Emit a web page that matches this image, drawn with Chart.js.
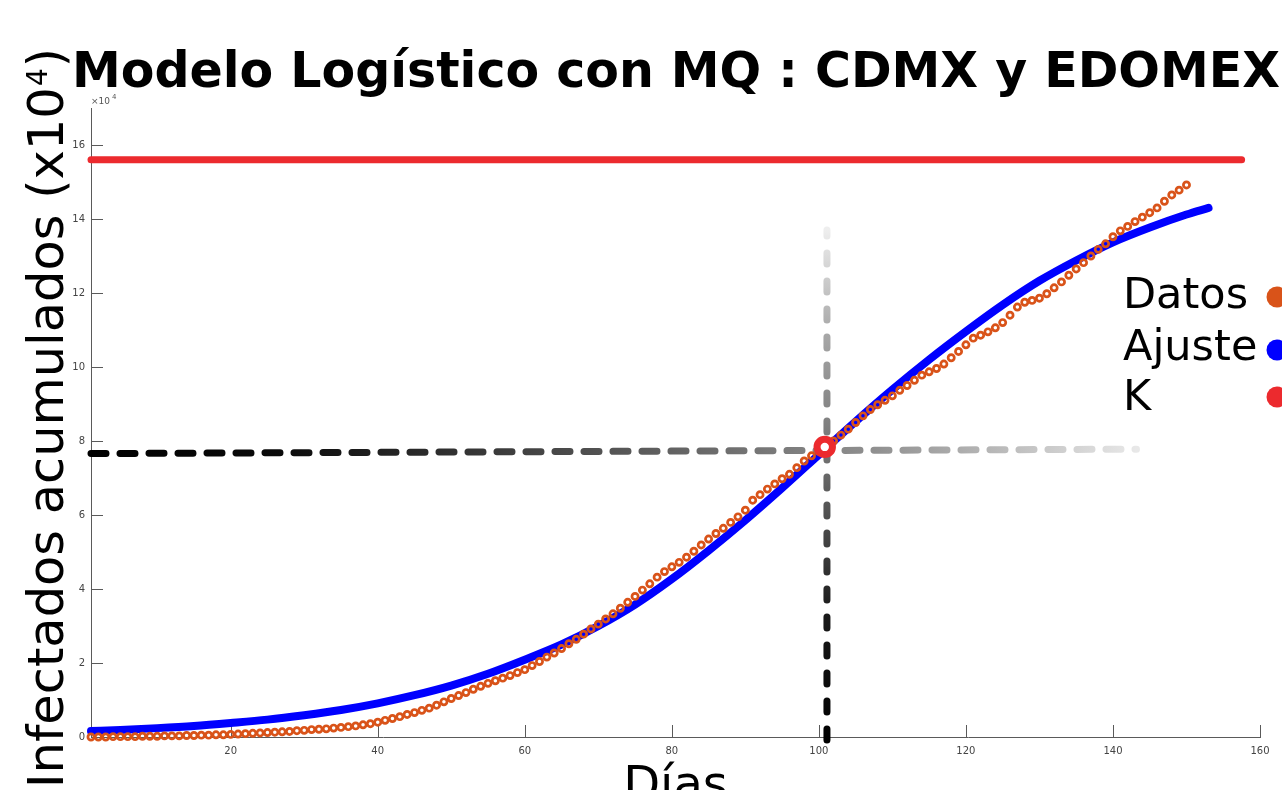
<!DOCTYPE html>
<html>
<head>
<meta charset="utf-8">
<script src="https://cdn.jsdelivr.net/npm/chart.js@4.4.1/dist/chart.umd.min.js"></script>
<style>
  html, body { margin: 0; padding: 0; background: #ffffff; }
  #wrap { width: 1282px; height: 790px; position: relative; overflow: hidden; }
</style>
</head>
<body>
<div id="wrap"><canvas id="c" width="1282" height="790"></canvas></div>
<script>
// Días 1..150 de casos acumulados (unidades de 10^4)
const dias = Array.from({ length: 150 }, (_, i) => i + 1);
const datos = [
  0.00, 0.00, 0.00, 0.01, 0.01, 0.01, 0.01, 0.02, 0.02, 0.02,
  0.03, 0.03, 0.03, 0.04, 0.04, 0.05, 0.05, 0.06, 0.06, 0.07,
  0.08, 0.09, 0.10, 0.11, 0.12, 0.13, 0.14, 0.15, 0.17, 0.18,
  0.20, 0.21, 0.22, 0.24, 0.26, 0.28, 0.30, 0.33, 0.36, 0.40,
  0.45, 0.50, 0.55, 0.61, 0.66, 0.72, 0.78, 0.86, 0.95, 1.04,
  1.12, 1.20, 1.29, 1.37, 1.45, 1.52, 1.59, 1.66, 1.74, 1.82,
  1.93, 2.04, 2.16, 2.27, 2.39, 2.52, 2.64, 2.78, 2.92, 3.05,
  3.19, 3.33, 3.48, 3.64, 3.80, 3.97, 4.14, 4.32, 4.47, 4.60,
  4.72, 4.86, 5.02, 5.19, 5.35, 5.50, 5.64, 5.80, 5.95, 6.13,
  6.40, 6.55, 6.70, 6.84, 6.98, 7.10, 7.28, 7.46, 7.60, 7.72,
  7.86, 8.00, 8.16, 8.32, 8.50, 8.68, 8.85, 8.98, 9.10, 9.22,
  9.37, 9.50, 9.64, 9.78, 9.87, 9.96, 10.08, 10.25, 10.42, 10.60,
  10.78, 10.86, 10.95, 11.06, 11.20, 11.40, 11.62, 11.75, 11.80, 11.86,
  11.98, 12.14, 12.30, 12.48, 12.65, 12.82, 13.00, 13.18, 13.33, 13.52,
  13.68, 13.80, 13.93, 14.05, 14.17, 14.30, 14.48, 14.65, 14.78, 14.92
];

// Curva logística ajustada por mínimos cuadrados
const ajusteDias = [
  1, 5, 10, 15, 20, 25, 30, 35, 40, 45, 50, 55, 60, 65, 70, 75,
  80, 85, 90, 95, 100, 105, 110, 115, 120, 125, 130, 135, 140, 145, 150, 153
];
const ajusteValores = [
  0.16, 0.19, 0.24, 0.30, 0.38, 0.47, 0.59, 0.73, 0.91, 1.13, 1.39, 1.71, 2.09, 2.50, 3.00, 3.58,
  4.27, 5.04, 5.86, 6.73, 7.63, 8.53, 9.39, 10.20, 10.96, 11.68, 12.33, 12.88, 13.37, 13.77, 14.12, 14.30
];

// Capacidad de carga K
const kValor = 15.6;
const kDias = [1, 157.5];

// Punto de inflexión y líneas de referencia
const inflexionDia = 100.8;
const inflexionValor = 7.84;
const refHDias = [1, 143.2];
const refHValores = [7.66, 7.78];
const refVDia = 101.1;
const refVValores = [-0.08, 13.7];

// Marcas de los ejes
const xTicks = [20, 40, 60, 80, 100, 120, 140, 160];
const yTicks = [0, 2, 4, 6, 8, 10, 12, 14, 16];

const titulo = 'Modelo Logístico con MQ : CDMX y EDOMEX';
const etiquetaY = 'Infectados acumulados (x10';
const etiquetaX = 'Días';
const leyenda = ['Datos', 'Ajuste', 'K'];

const NARANJA = '#d95319';
const AZUL = '#0000ff';
const ROJO = '#ec2a2e';
const FUENTE = '"DejaVu Sans", "Liberation Sans", sans-serif';

function gradH(context) {
  const chart = context.chart;
  const { ctx, chartArea, scales } = chart;
  if (!chartArea) return '#000';
  const x0 = scales.x.getPixelForValue(refHDias[0]);
  const x1 = scales.x.getPixelForValue(refHDias[1]);
  const g = ctx.createLinearGradient(x0, 0, x1, 0);
  g.addColorStop(0, '#000000');
  g.addColorStop(0.18, '#0a0a0a');
  g.addColorStop(0.5, '#555555');
  g.addColorStop(0.75, '#909090');
  g.addColorStop(1, '#e8e8e8');
  return g;
}
function gradV(context) {
  const chart = context.chart;
  const { ctx, chartArea, scales } = chart;
  if (!chartArea) return '#000';
  const y0 = scales.y.getPixelForValue(refVValores[0]);
  const y1 = scales.y.getPixelForValue(refVValores[1]);
  const g = ctx.createLinearGradient(0, y0, 0, y1);
  g.addColorStop(0, '#000000');
  g.addColorStop(0.25, '#1a1a1a');
  g.addColorStop(0.55, '#707070');
  g.addColorStop(0.8, '#a8a8a8');
  g.addColorStop(1, '#eeeeee');
  return g;
}

// Marcas de graduación hacia el interior, estilo MATLAB
const marcasInternas = {
  id: 'marcasInternas',
  beforeDatasetsDraw(chart) {
    const { ctx, scales, chartArea } = chart;
    ctx.save();
    ctx.strokeStyle = '#5a5a5a';
    ctx.lineWidth = 1;
    ctx.beginPath();
    scales.x.ticks.forEach(t => {
      const px = Math.round(scales.x.getPixelForValue(t.value)) + 0.5;
      ctx.moveTo(px, chartArea.bottom);
      ctx.lineTo(px, chartArea.bottom - 12);
    });
    scales.y.ticks.forEach(t => {
      const py = Math.round(scales.y.getPixelForValue(t.value)) + 0.5;
      ctx.moveTo(chartArea.left, py);
      ctx.lineTo(chartArea.left + 12, py);
    });
    ctx.stroke();
    ctx.restore();
  }
};

// Títulos, etiquetas y leyenda
const textos = {
  id: 'textos',
  afterDraw(chart) {
    const { ctx, chartArea } = chart;
    ctx.save();
    ctx.fillStyle = '#000';
    ctx.textBaseline = 'alphabetic';

    // Título
    ctx.font = 'bold 50px ' + FUENTE;
    ctx.textAlign = 'left';
    const wt = ctx.measureText(titulo).width;
    ctx.save();
    ctx.translate(72, 87);
    ctx.scale(1208 / wt, 1);
    ctx.fillText(titulo, 0, 0);
    ctx.restore();

    // Etiqueta del eje Y (girada)
    ctx.save();
    ctx.translate(63, 788);
    ctx.rotate(-Math.PI / 2);
    ctx.font = '49px ' + FUENTE;
    const w1 = ctx.measureText(etiquetaY).width;
    ctx.font = '28px ' + FUENTE;
    const w2 = ctx.measureText('4').width;
    ctx.font = '49px ' + FUENTE;
    const w3 = ctx.measureText(')').width;
    const sx = 740 / (w1 + w2 + w3 + 2);
    ctx.scale(sx, 1);
    ctx.fillText(etiquetaY, 0, 0);
    ctx.font = '28px ' + FUENTE;
    ctx.fillText('4', w1 + 1, -16);
    ctx.font = '49px ' + FUENTE;
    ctx.fillText(')', w1 + w2 + 2, 0);
    ctx.restore();

    // Etiqueta del eje X
    ctx.font = '48px ' + FUENTE;
    ctx.textAlign = 'center';
    ctx.fillText(etiquetaX, (chartArea.left + chartArea.right) / 2, 800);

    // Multiplicador del eje Y
    ctx.fillStyle = '#555';
    ctx.textAlign = 'left';
    ctx.font = '9px ' + FUENTE;
    ctx.fillText('\u00d710', 91, 104);
    ctx.font = '7px ' + FUENTE;
    ctx.fillText('4', 112, 99);

    // Leyenda
    ctx.font = '43px ' + FUENTE;
    const bases = [308, 360, 410];
    const centros = [297, 350, 397];
    const colores = [NARANJA, AZUL, ROJO];
    leyenda.forEach((t, i) => {
      ctx.fillStyle = '#000';
      ctx.fillText(t, 1123, bases[i]);
      ctx.fillStyle = colores[i];
      ctx.beginPath();
      ctx.arc(1277, centros[i], 10.5, 0, Math.PI * 2);
      ctx.fill();
    });
    ctx.restore();
  }
};

const fondoBlanco = {
  id: 'fondoBlanco',
  beforeDraw(chart) {
    const { ctx, width, height } = chart;
    ctx.save();
    ctx.fillStyle = '#ffffff';
    ctx.fillRect(0, 0, width, height);
    ctx.restore();
  }
};

new Chart(document.getElementById('c'), {
  type: 'scatter',
  data: {
    datasets: [
      {
        label: 'Inflexión',
        data: [{ x: inflexionDia, y: inflexionValor }],
        pointRadius: 7.7,
        pointBorderWidth: 7,
        pointBorderColor: ROJO,
        pointBackgroundColor: '#ffffff',
        showLine: false,
        order: 0,
        clip: false
      },
      {
        label: leyenda[0],
        data: dias.map((d, i) => ({ x: d, y: datos[i] })),
        pointRadius: 3.1,
        pointBorderWidth: 2.7,
        pointBorderColor: NARANJA,
        pointBackgroundColor: 'rgba(0,0,0,0)',
        showLine: false,
        order: 1,
        clip: false
      },
      {
        label: leyenda[1],
        data: ajusteDias.map((d, i) => ({ x: d, y: ajusteValores[i] })),
        showLine: true,
        borderColor: AZUL,
        borderWidth: 8,
        borderCapStyle: 'round',
        cubicInterpolationMode: 'monotone',
        pointRadius: 0,
        order: 2,
        clip: false
      },
      {
        label: leyenda[2],
        data: kDias.map(d => ({ x: d, y: kValor })),
        showLine: true,
        borderColor: ROJO,
        borderWidth: 7,
        borderCapStyle: 'round',
        pointRadius: 0,
        order: 3,
        clip: false
      },
      {
        label: 'refH',
        data: refHDias.map((d, i) => ({ x: d, y: refHValores[i] })),
        showLine: true,
        borderColor: gradH,
        borderWidth: 7,
        borderDash: [15, 14],
        borderCapStyle: 'round',
        pointRadius: 0,
        order: 4,
        clip: false
      },
      {
        label: 'refV',
        data: refVValores.map(v => ({ x: refVDia, y: v })),
        showLine: true,
        borderColor: gradV,
        borderWidth: 7,
        borderDash: [11, 17],
        borderCapStyle: 'round',
        pointRadius: 0,
        order: 5,
        clip: false
      }
    ]
  },
  options: {
    responsive: false,
    animation: false,
    devicePixelRatio: 1,
    layout: { padding: { top: 108, right: 22, left: 0, bottom: 0 } },
    plugins: {
      legend: { display: false },
      title: { display: false },
      tooltip: { enabled: false }
    },
    scales: {
      x: {
        type: 'linear',
        min: 1,
        max: 160,
        afterFit(s) { s.height = 53; },
        afterBuildTicks(s) { s.ticks = xTicks.map(v => ({ value: v })); },
        grid: { display: false, drawTicks: false },
        border: { display: true, color: '#5a5a5a', width: 1 },
        ticks: {
          color: '#444',
          font: { family: FUENTE, size: 10 },
          padding: 8,
          maxRotation: 0,
          autoSkip: false
        }
      },
      y: {
        type: 'linear',
        min: 0,
        max: 17,
        afterFit(s) { s.width = 91; },
        afterBuildTicks(s) { s.ticks = yTicks.map(v => ({ value: v })); },
        grid: { display: false, drawTicks: false },
        border: { display: true, color: '#5a5a5a', width: 1 },
        ticks: {
          color: '#444',
          font: { family: FUENTE, size: 10 },
          padding: 6,
          autoSkip: false
        }
      }
    }
  },
  plugins: [fondoBlanco, marcasInternas, textos]
});
</script>
</body>
</html>
